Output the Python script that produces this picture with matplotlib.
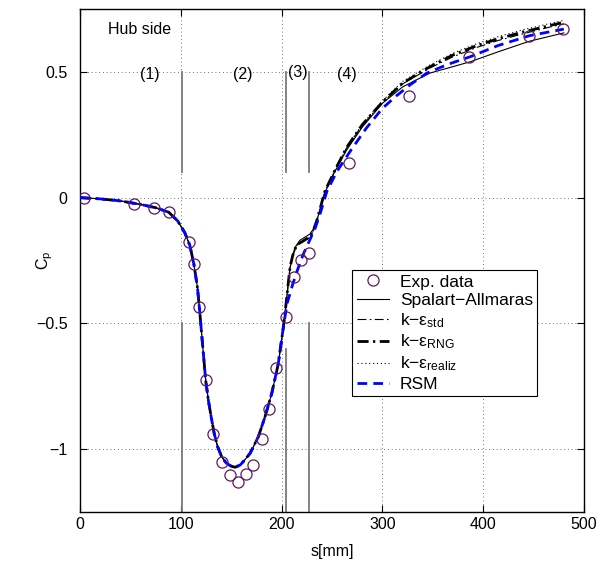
import numpy as np
import matplotlib
matplotlib.use("Agg")
import matplotlib.pyplot as plt
from matplotlib.lines import Line2D

plt.rcParams['font.family'] = ['Liberation Sans', 'DejaVu Sans']
plt.rcParams['mathtext.fontset'] = 'custom'
plt.rcParams['mathtext.rm'] = 'Liberation Sans'
plt.rcParams['mathtext.it'] = 'Liberation Sans:italic'
plt.rcParams['mathtext.bf'] = 'Liberation Sans:bold'

# ---------------- data ----------------
exp_s = [4, 53.6, 73.7, 88.3, 108.1, 112.8, 118.1, 124.7, 132.2, 140.6, 148.8, 156.4,
         164.4, 171.9, 180.3, 187.8, 194.4, 203.9, 212.3, 219.2, 227.5, 267.2, 326.2,
         386.4, 445.7, 479.2]
exp_cp = [0.0, -0.025, -0.043, -0.057, -0.176, -0.262, -0.434, -0.727, -0.941, -1.05,
          -1.102, -1.13, -1.098, -1.064, -0.958, -0.839, -0.678, -0.473, -0.315, -0.249,
          -0.221, 0.138, 0.405, 0.560, 0.644, 0.672]

# common upstream / trough part shared by all simulations
trough_s = [0, 20, 40, 60, 75, 88, 97, 104, 109, 113, 116.5, 118.5, 121.5, 124.7, 127.5,
            130.5, 133, 136.5, 140.5, 145, 150, 154, 159, 163, 168.7, 176.9, 183.5,
            190.2, 196.7, 201.7]
trough_cp = [0, -0.005, -0.013, -0.027, -0.040, -0.058, -0.093, -0.14, -0.19, -0.265,
             -0.357, -0.44, -0.58, -0.727, -0.81, -0.88, -0.935, -0.99, -1.03, -1.055,
             -1.068, -1.072, -1.063, -1.045, -1.017, -0.951, -0.872, -0.779, -0.661,
             -0.516]

sa_s = [203.4, 208.3, 213, 218, 224, 228, 231.5, 235, 243, 253, 264.6, 280, 300, 320,
        347, 387, 415, 446, 480]
sa_cp = [-0.46, -0.28, -0.2, -0.17, -0.155, -0.145, -0.125, -0.09, 0.02, 0.105, 0.19,
         0.28, 0.375, 0.44, 0.495, 0.54, 0.58, 0.622, 0.655]

std_s = [203.4, 208.3, 211, 215, 221.5, 228.2, 231.5, 235, 243, 253, 264.6, 280, 300,
         320, 347, 370, 393.5, 415, 440, 468, 480]
std_cp = [-0.46, -0.28, -0.232, -0.19, -0.174, -0.158, -0.133, -0.093, 0.024, 0.108,
          0.198, 0.288, 0.378, 0.452, 0.515, 0.56, 0.597, 0.625, 0.652, 0.68, 0.69]

rng_s = [203.4, 208.3, 211, 215, 221.5, 228.2, 231.5, 235, 243, 253, 264.6, 280, 300,
         320, 347, 370, 393.5, 415, 440, 468, 480]
rng_cp = [-0.46, -0.278, -0.23, -0.188, -0.172, -0.155, -0.13, -0.09, 0.026, 0.11, 0.2,
          0.29, 0.38, 0.455, 0.52, 0.567, 0.604, 0.632, 0.659, 0.686, 0.697]

rea_s = [203.4, 208.3, 211, 215, 221.5, 228.2, 231.5, 235, 243, 253, 264.6, 280, 300,
         320, 347, 370, 393.5, 415, 440, 468, 480]
rea_cp = [-0.46, -0.28, -0.232, -0.19, -0.173, -0.157, -0.132, -0.092, 0.026, 0.11,
          0.2, 0.292, 0.385, 0.462, 0.527, 0.574, 0.612, 0.64, 0.668, 0.694, 0.705]

rsm_s = [205.5, 211, 216, 221.5, 228, 233, 238, 245, 255, 268, 284, 300, 314, 328, 344,
         365, 387, 415, 446, 480]
rsm_cp = [-0.42, -0.345, -0.285, -0.225, -0.168, -0.125, -0.067, 0.026, 0.105, 0.184,
          0.276, 0.355, 0.405, 0.45, 0.495, 0.53, 0.56, 0.605, 0.644, 0.67]

# region separators
sep_s = [101, 204, 227]
sep_low_top = [-0.5, -0.6, -0.5]
sep_up_bottom = [0.1, 0.1, 0.1]
sep_up_top = [0.5, 0.5, 0.5]

region_labels = ['(1)', '(2)', '(3)', '(4)']
region_s = [69, 161, 216, 265]
region_cp = [0.49, 0.49, 0.497, 0.49]

legend_labels = ['Exp. data', 'Spalart\u2212Allmaras',
                 'k\u2212\u03b5$_{\\mathrm{std}}$', 'k\u2212\u03b5$_{\\mathrm{RNG}}$',
                 'k\u2212\u03b5$_{\\mathrm{realiz}}$', 'RSM']

# ---------------- figure ----------------
fig = plt.figure(figsize=(5.99, 5.64), dpi=100)
ax = fig.add_axes([80/599, 1-512/564, 504/599, 503/564])
FS = 11.5

ax.set_xlim(0, 500)
ax.set_ylim(-1.25, 0.75)
ax.set_xticks([0, 100, 200, 300, 400, 500])
ax.set_yticks([-1, -0.5, 0, 0.5])
ax.set_yticklabels(['\u22121', '\u22120.5', '0', '0.5'])
ax.tick_params(direction='in', top=True, right=True, labelsize=FS, length=5, width=0.8)
ax.tick_params(axis='y', pad=9)
ax.grid(True, linestyle=(0, (1, 3.5)), color='#444444', linewidth=0.6)
for sp in ax.spines.values():
    sp.set_linewidth(1.0)

for s, lt, ub, ut in zip(sep_s, sep_low_top, sep_up_bottom, sep_up_top):
    ax.plot([s, s], [-1.25, lt], color='#7a7a7a', lw=1.3, zorder=2)
    ax.plot([s, s], [ub, ut], color='#7a7a7a', lw=1.3, zorder=2)

def full(tail_s, tail_cp):
    return list(trough_s) + list(tail_s), list(trough_cp) + list(tail_cp)

s1, c1 = full(sa_s, sa_cp)
s2, c2 = full(std_s, std_cp)
s3, c3 = full(rng_s, rng_cp)
s4, c4 = full(rea_s, rea_cp)
s5, c5 = full(rsm_s, rsm_cp)

ls_std = (0, (8, 3, 1.5, 3))
ls_rng = (0, (4, 1.6, 0.8, 1.6))
ls_rea = (0, (1, 2.5))
ls_rsm = (0, (3.5, 2.2))

ax.plot(s1, c1, color='black', lw=0.8, ls='-', zorder=3)
ax.plot(s2, c2, color='black', lw=0.8, ls=ls_std, zorder=3)
ax.plot(s3, c3, color='black', lw=2.0, ls=ls_rng, zorder=3)
ax.plot(s4, c4, color='black', lw=0.8, ls=ls_rea, zorder=3)
ax.plot(s5, c5, color='#0000ff', lw=2.0, ls=ls_rsm, zorder=4)
ax.plot(exp_s, exp_cp, ls='none', marker='o', ms=8, mfc='none', mec='#5c1a5c',
        mew=0.9, zorder=5)

for t, s, c in zip(region_labels, region_s, region_cp):
    ax.text(s, c, t, ha='center', va='center', fontsize=FS)
ax.text(28, 0.67, 'Hub side', ha='left', va='center', fontsize=FS)

ax.set_xlabel('s[mm]', fontsize=FS, labelpad=9)
ax.set_ylabel('C$_\\mathrm{p}$', fontsize=FS)
ax.yaxis.set_label_coords(-0.05, 0.5)

handles = [
    Line2D([], [], ls='none', marker='o', ms=8, mfc='none', mec='#5c1a5c', mew=0.9),
    Line2D([], [], color='black', lw=0.8, ls='-'),
    Line2D([], [], color='black', lw=0.8, ls=ls_std),
    Line2D([], [], color='black', lw=2.0, ls=ls_rng),
    Line2D([], [], color='black', lw=0.8, ls=ls_rea),
    Line2D([], [], color='#0000ff', lw=2.0, ls=ls_rsm),
]
leg = ax.legend(handles, legend_labels, loc='upper left', bbox_to_anchor=(0.54, 0.481),
                borderaxespad=0, prop={'size': 12.5}, frameon=True, fancybox=False,
                edgecolor='black', framealpha=1, handlelength=1.85, handletextpad=0.65,
                labelspacing=0.18, borderpad=0.25)
leg.get_frame().set_linewidth(0.8)

fig.savefig('out.png', dpi=100)
